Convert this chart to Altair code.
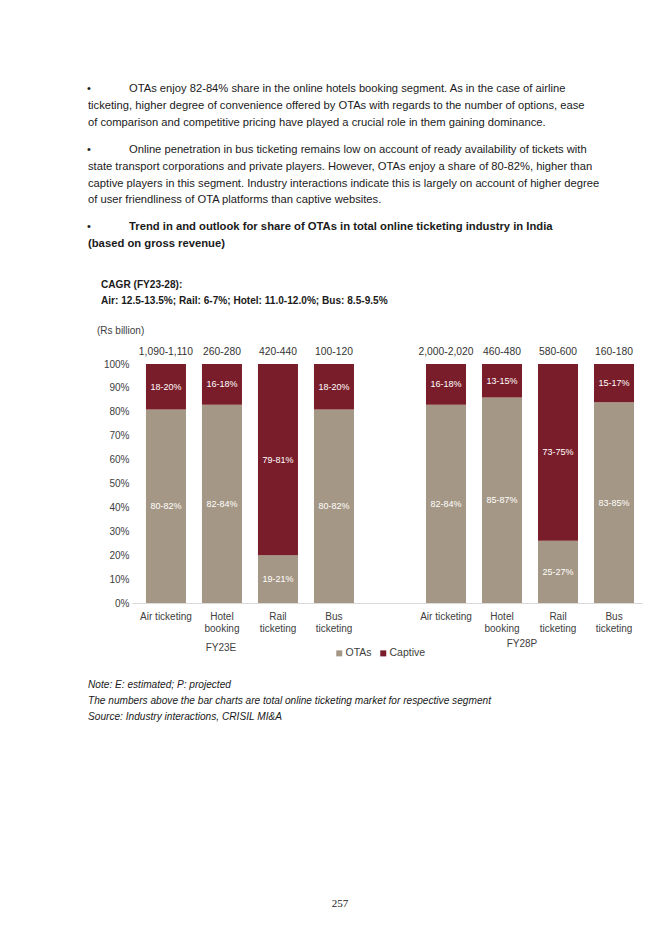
import altair as alt
import pandas as pd

FONT = "Liberation Sans"
SERIF = "Liberation Serif"

# ---------------- data ----------------
periods = ["FY23E", "FY28P"]
axis_labels = ["Air ticketing", "Hotel~booking", "Rail~ticketing", "Bus~ticketing"]
ota_share = {"FY23E": [81, 83, 20, 81], "FY28P": [83, 86, 26, 84]}
captive_share = {"FY23E": [19, 17, 80, 19], "FY28P": [17, 14, 74, 16]}
ota_labels = {"FY23E": ["80-82%", "82-84%", "19-21%", "80-82%"],
              "FY28P": ["82-84%", "85-87%", "25-27%", "83-85%"]}
captive_labels = {"FY23E": ["18-20%", "16-18%", "79-81%", "18-20%"],
                  "FY28P": ["16-18%", "13-15%", "73-75%", "15-17%"]}
market_size = {"FY23E": ["1,090-1,110", "260-280", "420-440", "100-120"],
               "FY28P": ["2,000-2,020", "460-480", "580-600", "160-180"]}
y_ticks = [0, 0.1, 0.2, 0.3, 0.4, 0.5, 0.6, 0.7, 0.8, 0.9, 1.0]
series = ["OTAs", "Captive"]
colors = ["#A59785", "#7A1D2A"]

para1_first = ["OTAs enjoy 82-84% share in the online hotels booking segment. As in the case of airline"]
para1_rest = ["ticketing, higher degree of convenience offered by OTAs with regards to the number of options, ease",
              "of comparison and competitive pricing have played a crucial role in them gaining dominance."]
para2_first = ["Online penetration in bus ticketing remains low on account of ready availability of tickets with"]
para2_rest = ["state transport corporations and private players. However, OTAs enjoy a share of 80-82%, higher than",
              "captive players in this segment. Industry interactions indicate this is largely on account of higher degree",
              "of user friendliness of OTA platforms than captive websites."]
heading_first = ["Trend in and outlook for share of OTAs in total online ticketing industry in India"]
heading_rest = ["(based on gross revenue)"]
cagr_lines = ["CAGR (FY23-28):", "Air: 12.5-13.5%; Rail: 6-7%; Hotel: 11.0-12.0%; Bus: 8.5-9.5%"]
unit_text = "(Rs billion)"
notes = ["Note: E: estimated; P: projected",
         "The numbers above the bar charts are total online ticketing market for respective segment",
         "Source: Industry interactions, CRISIL MI&A"]
page_no = "257"

# ---------------- tables ----------------
rows, mrows, domain = [], [], []
for p in periods:
    if domain:
        domain.append("gap")
    for i, lab in enumerate(axis_labels):
        key = f"{p}|{lab}"
        domain.append(key)
        rows.append(dict(key=key, series="OTAs", ord=0, share=ota_share[p][i] / 100, label=ota_labels[p][i]))
        rows.append(dict(key=key, series="Captive", ord=1, share=captive_share[p][i] / 100, label=captive_labels[p][i]))
        mrows.append(dict(key=key, market=market_size[p][i]))
df = pd.DataFrame(rows)
mk = pd.DataFrame(mrows)
one = pd.DataFrame({"_": [0]})

# plot origin on the page
OX, OY = 132, 364


def px(x):
    return x - OX


def py(y):
    return y - OY


xscale = alt.Scale(domain=domain, paddingInner=0.2857, paddingOuter=0.196, align=0.636)
yscale = alt.Scale(domain=[0, 1], nice=False)
xaxis = alt.Axis(
    title=None, labelAngle=0, ticks=False, tickSize=0, domainColor="#D9D9D9",
    labelExpr="datum.value == 'gap' ? '' : split(split(datum.value, '|')[1], '~')",
    labelFont=FONT, labelFontSize=10, labelColor="#404040", labelPadding=8,
    labelLineHeight=12, labelOverlap=False, labelLimit=200, labelBound=False,
)
yaxis = alt.Axis(
    title=None, values=y_ticks, format=".0%", domain=False,
    ticks=False, tickSize=0, grid=False, labelFont=FONT, labelFontSize=10,
    labelColor="#404040", labelPadding=3, labelOverlap=False, labelFlush=False,
)
X = alt.X("key:N", scale=xscale, sort=domain, axis=xaxis)

bars = alt.Chart(df).mark_bar().encode(
    x=X,
    y=alt.Y("share:Q", stack="zero", scale=yscale, axis=yaxis),
    color=alt.Color("series:N", scale=alt.Scale(domain=series, range=colors), sort=series,
                    legend=alt.Legend(title=None, orient="none", legendX=px(334), legendY=py(654) - 6,
                                      direction="horizontal", symbolType="square", symbolSize=36,
                                      symbolStrokeWidth=0, labelFont=FONT, labelFontSize=10.5,
                                      labelColor="#404040", labelOffset=1, columnPadding=6, padding=0)),
    order=alt.Order("ord:Q"),
)

seg_labels = alt.Chart(df).transform_stack(
    stack="share", groupby=["key"], as_=["s0", "s1"], sort=[alt.SortField("ord", "ascending")]
).transform_calculate(mid="(datum.s0 + datum.s1) / 2").mark_text(
    color="white", fontSize=9, font=FONT, fontWeight="normal"
).encode(
    x=X,
    y=alt.Y("mid:Q", scale=yscale, axis=yaxis),
    text="label:N",
)

mkt_labels = alt.Chart(mk).mark_text(dy=-12, fontSize=10.3, font=FONT, color="#333333").encode(
    x=X,
    y=alt.datum(1, scale=yscale, axis=yaxis),
    text="market:N",
)


def block(lines, x, yc, size, weight="normal", style="normal", align="left", font=FONT,
          color="#1a1a1a", lh=17):
    return alt.Chart(one).mark_text(
        text=lines, fontSize=size, fontWeight=weight, fontStyle=style, align=align,
        baseline="top", font=font, color=color, lineHeight=lh,
    ).encode(x=alt.value(px(x)), y=alt.value(py(yc) - 0.44 * size))


layers = [
    bars, seg_labels, mkt_labels,
    block(["•"], 87, 88, 11),
    block(para1_first, 129, 88, 11.2),
    block(para1_rest, 88, 105, 11.2),
    block(["•"], 87, 149, 11),
    block(para2_first, 129, 149, 11.2),
    block(para2_rest, 88, 166, 11.2, lh=16.7),
    block(["•"], 87, 226, 11),
    block(heading_first, 129, 226, 11.25, weight="bold"),
    block(heading_rest, 88, 243, 11.25, weight="bold"),
    block(cagr_lines, 101, 284, 10.1, weight="bold", lh=16),
    block([unit_text], 97, 330, 10, color="#404040"),
    block(["FY23E"], 221, 647, 10, align="center", color="#404040"),
    block(["FY28P"], 522, 643, 10, align="center", color="#404040"),
    block(notes, 88, 684, 10.15, style="italic", lh=16.3),
    block([page_no], 340, 903, 11, align="center", font=SERIF),
]

chart = alt.layer(*layers).properties(
    width=510, height=239,
    autosize=alt.AutoSizeParams(type="none"),
    padding={"left": 124, "top": 356, "right": 12, "bottom": 330},
    background="white",
).configure_view(stroke=None)

chart.save("out.html", embed_options={"renderer": "svg", "actions": False})
